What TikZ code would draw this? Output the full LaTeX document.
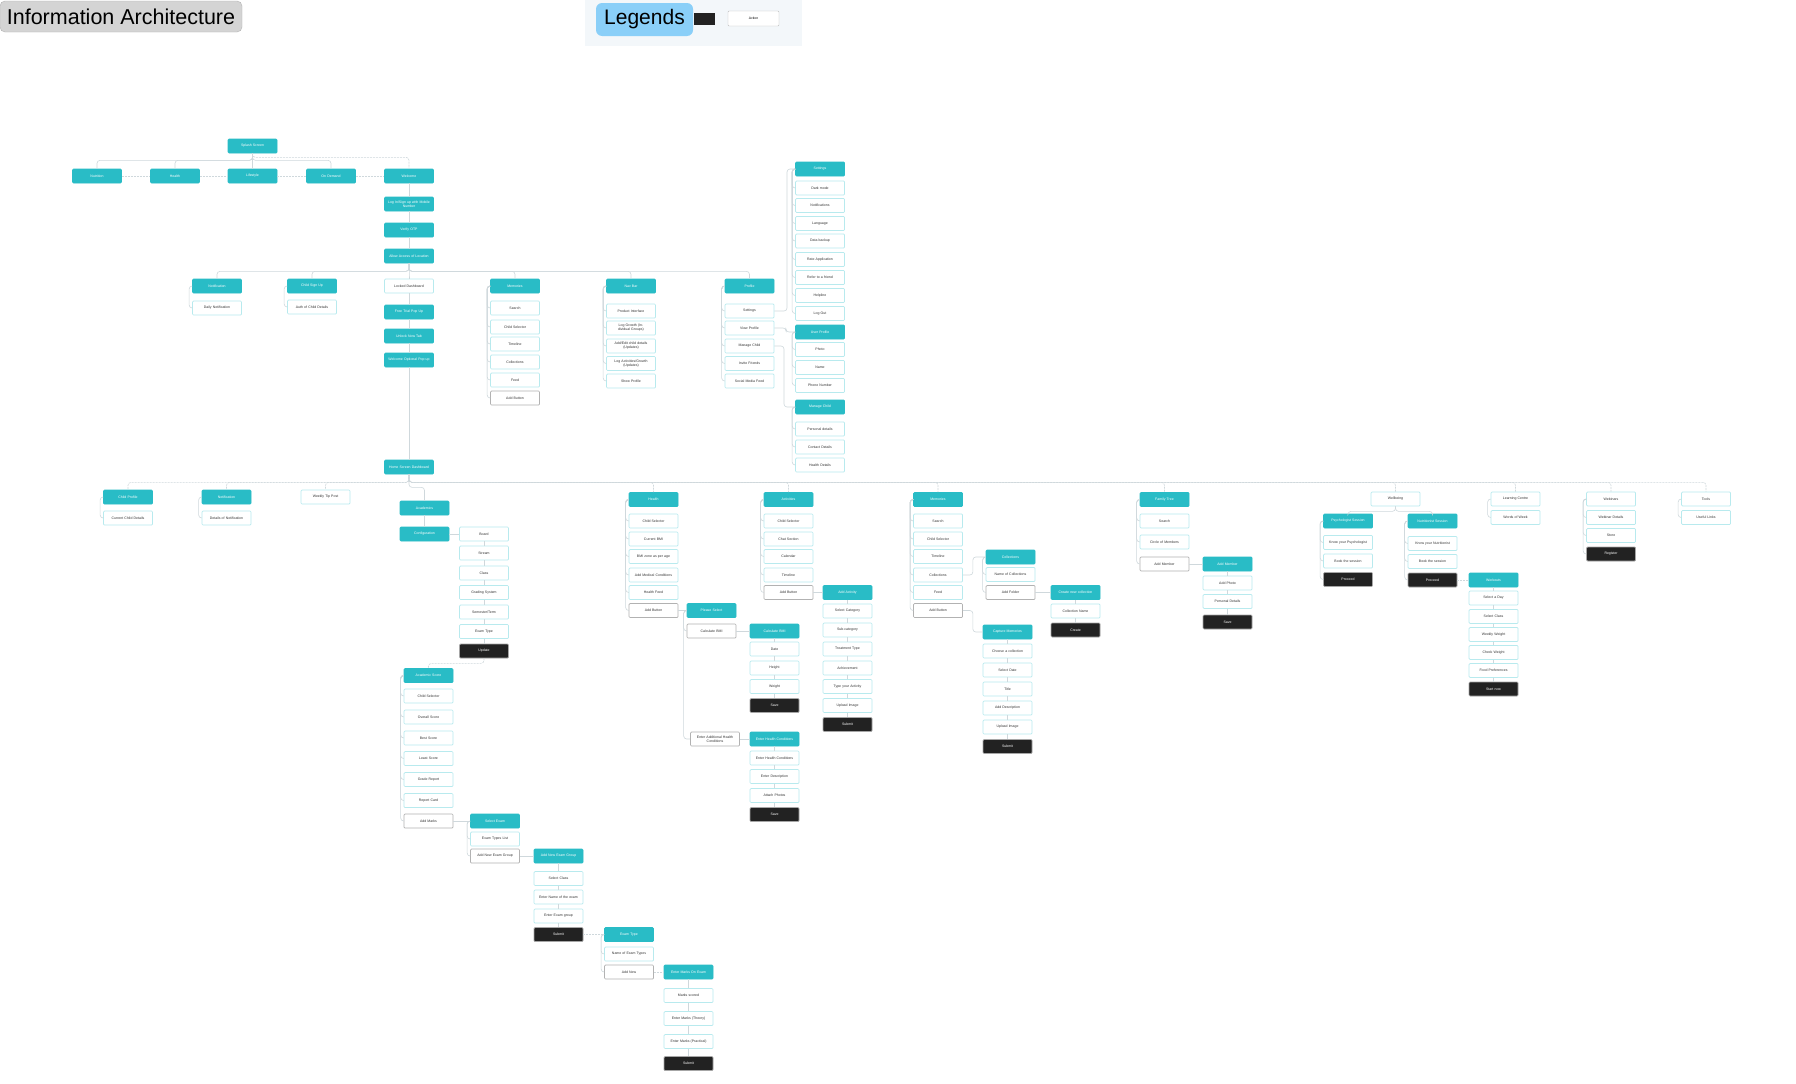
\documentclass[tikz,border=0pt]{standalone}
\usepackage{fontspec}
\setmainfont{Liberation Sans}
\definecolor{teal1}{HTML}{29BCC6}
\definecolor{lteal}{HTML}{B8EAEE}
\definecolor{blk}{HTML}{222222}
\definecolor{lineg}{HTML}{CFD8DC}
\definecolor{titlebg}{HTML}{D4D4D4}
\definecolor{legbg}{HTML}{F3F7FA}
\definecolor{legblue}{HTML}{8ACFF8}
\tikzset{
 bx/.style={rectangle, rounded corners=1pt, minimum width=49pt, minimum height=14pt, inner sep=0pt, align=center, text width=46pt, font=\fontsize{3.5}{4.1}\selectfont, line width=0.7pt},
 tl/.style={bx, fill=teal1, draw=teal1, text=white},
 wt/.style={bx, fill=white, draw=lteal, text=black!80},
 gr/.style={bx, fill=white, draw=gray!60, text=black!80},
 bk/.style={bx, fill=blk, draw=gray!70, text=white},
 conn/.style={draw=lineg, line width=0.6pt, rounded corners=3pt},
 dconn/.style={conn, dash pattern=on 2pt off 1pt},
}
\newcommand\iaBrk[2]{\draw[conn] (#1.west) -- ++(-3,0) |- (#2.west);}
\newcommand\iaDn[2]{\draw[conn] (#1.south) -- (#2.north);}
\newcommand\iaRt[2]{\draw[conn] (#1.east) -- (#2.west);}
\begin{document}
\begin{tikzpicture}[x=1pt,y=-1pt]
\useasboundingbox (0,0) rectangle (1796,1084);
\fill[white] (0,0) rectangle (1796,1084);
% title
\node[draw=gray!60, fill=titlebg, rounded corners=5pt, minimum width=242pt, minimum height=31pt, inner sep=0pt, font=\fontsize{21.5}{24}\selectfont] (title) at (121,16.5) {Information Architecture};
% legend
\fill[legbg] (585,0) rectangle (802,46);
\node[fill=legblue, rounded corners=6pt, minimum width=97pt, minimum height=33pt, inner sep=0pt, font=\fontsize{21}{24}\selectfont] (leg) at (644.5,19.5) {Legends};
\node[fill=blk, minimum width=21pt, minimum height=12pt, inner sep=0pt] (legblk) at (704.5,19) {};
\node[draw=gray!50, fill=white, rounded corners=1pt, minimum width=51pt, minimum height=15pt, inner sep=0pt, font=\fontsize{3.4}{4}\selectfont] (legwt) at (753.5,18.5) {Action};

% ===== top =====
\node[tl] (splash) at (252.5,146) {Splash Screen};
\node[tl] (ob1) at (97,176) {Nutrition};
\node[tl] (ob2) at (175,176) {Health};
\node[tl] (ob3) at (252.5,176) {Lifestyle};
\node[tl] (ob4) at (331,176) {On Demand};
\node[tl] (welc) at (409,176) {Welcome};
\node[tl] (login) at (409,204) {Log In/Sign up with Mobile\\Number};
\node[tl] (otp) at (409,230) {Verify OTP};
\node[tl] (loc) at (409,256) {Allow Access of Location};
\foreach \t in {ob1,ob2,ob3,ob4} {\draw[conn] (splash.south) -- ++(0,7) -| (\t.north);}
\draw[dconn] (splash.south) -- ++(0,4) -| (welc.north);
\draw[dconn] (ob1.east) -- (ob2.west);
\draw[dconn] (ob2.east) -- (ob3.west);
\draw[dconn] (ob3.east) -- (ob4.west);
\draw[dconn] (ob4.east) -- (welc.west);
\iaDn{welc}{login}\iaDn{login}{otp}\iaDn{otp}{loc}

% ===== middle row =====
\node[tl] (notif) at (217,286) {Notification};
\node[wt] (dnot) at (217,308) {Daily Notification};
\node[tl] (csign) at (312,286) {Child Sign Up};
\node[wt] (cauth) at (312,307) {Auth of Child Details};
\node[wt] (lock) at (409,286) {Locked Dashboard};
\node[tl] (ftp) at (409,312) {Free Trial Pop Up};
\node[tl] (unl) at (409,336) {Unlock Now Tab};
\node[tl] (opt) at (409,360) {Welcome Optional Pop up};
\node[tl] (mem1) at (515,286) {Memories};
\node[wt] (m1a) at (515,308) {Search};
\node[wt] (m1b) at (515,327) {Child Selector};
\node[wt] (m1c) at (515,344) {Timeline};
\node[wt] (m1d) at (515,362) {Collections};
\node[wt] (m1e) at (515,380) {Feed};
\node[gr] (m1f) at (515,398) {Add Button};
\node[tl] (nav) at (631,286) {Nav Bar};
\node[wt] (n1) at (631,311) {Product Interface};
\node[wt] (n2) at (631,328) {Log Growth (Individual Groups)};
\node[wt] (n3) at (631,346) {Add/Edit child details\\(Updates)};
\node[wt] (n4) at (631,363.5) {Log Activities/Growth\\(Updates)};
\node[wt] (n5) at (631,381) {Show Profile};
\node[tl] (prof) at (749.5,286) {Profile};
\node[wt] (p1) at (749.5,311) {Settings};
\node[wt] (p2) at (749.5,328) {View Profile};
\node[wt] (p3) at (749.5,346) {Manage Child};
\node[wt] (p4) at (749.5,363.5) {Invite Friends};
\node[wt] (p5) at (749.5,381) {Social Media Feed};
\foreach \t in {notif,csign,lock,mem1,nav,prof} {\draw[conn] (loc.south) -- ++(0,8) -| (\t.north);}
\iaBrk{notif}{dnot}
\iaBrk{csign}{cauth}
\iaDn{lock}{ftp}\iaDn{ftp}{unl}\iaDn{unl}{opt}
\foreach \c in {m1a,m1b,m1c,m1d,m1e,m1f} {\iaBrk{mem1}{\c}}
\foreach \c in {n1,n2,n3,n4,n5} {\iaBrk{nav}{\c}}
\foreach \c in {p1,p2,p3,p4,p5} {\iaBrk{prof}{\c}}

% ===== settings column =====
\node[tl] (set) at (820,169) {Settings};
\node[wt] (s1) at (820,188) {Dark mode};
\node[wt] (s2) at (820,205.5) {Notifications};
\node[wt] (s3) at (820,223.5) {Language};
\node[wt] (s4) at (820,241) {Data backup};
\node[wt] (s5) at (820,259.5) {Rate Application};
\node[wt] (s6) at (820,277.5) {Refer to a friend};
\node[wt] (s7) at (820,295.5) {Helpline};
\node[wt] (s8) at (820,313.5) {Log Out};
\node[tl] (uprof) at (820,332) {User Profile};
\node[wt] (u1) at (820,349.5) {Photo};
\node[wt] (u2) at (820,367.5) {Name};
\node[wt] (u3) at (820,385.5) {Phone Number};
\node[tl] (mch) at (820,407) {Manage Child};
\node[wt] (c1) at (820,429) {Personal details};
\node[wt] (c2) at (820,447) {Contact Details};
\node[wt] (c3) at (820,465) {Health Details};
\foreach \c in {s1,s2,s3,s4,s5,s6,s7,s8} {\iaBrk{set}{\c}}
\foreach \c in {u1,u2,u3} {\iaBrk{uprof}{\c}}
\foreach \c in {c1,c2,c3} {\iaBrk{mch}{\c}}
\draw[conn] (p1.east) -- (787,311) |- (set.west);
\draw[conn] (p2.east) -- (786,328) |- (uprof.west);
\draw[conn] (p3.east) -- (784,346) |- (mch.west);

% ===== home =====
\node[tl] (home) at (409,467) {Home Screen Dashboard};
\draw[conn] (opt.south) -- (home.north);

% level children
\node[tl] (cprof) at (128,497) {Child Profile};
\node[wt] (cpd) at (128,518) {Current Child Details};
\node[tl] (not2) at (226.5,497) {Notification};
\node[wt] (not2d) at (226.5,518) {Details of Notification};
\node[wt] (week) at (325.5,497) {Weekly Tip Post};
\node[tl] (acad) at (424.5,508) {Academics};
\node[tl] (health) at (653.5,499.5) {Health};
\node[tl] (act) at (788.5,499.5) {Activities};
\node[tl] (mem2) at (938,499.5) {Memories};
\node[tl] (fam) at (1164.5,499.5) {Family Tree};
\node[wt] (wellb) at (1395.5,499) {Wellbeing};
\node[wt] (learn) at (1515.5,499) {Learning Centre};
\node[wt] (webi) at (1611,499) {Webinars};
\node[wt] (tools) at (1706,499) {Tools};
\foreach \t in {cprof,not2,week,health,act,mem2,fam,wellb,learn,webi,tools} {\draw[dconn] (home.south) -- ++(0,8) -| (\t.north);}
\draw[conn] (home.south) -- ++(0,13) -| (acad.north);
\iaBrk{cprof}{cpd}
\iaBrk{not2}{not2d}

% academics
\node[tl] (conf) at (424.5,534) {Configuration};
\node[wt] (b1) at (484,534) {Board};
\node[wt] (b2) at (484,553) {Stream};
\node[wt] (b3) at (484,573) {Class};
\node[wt] (b4) at (484,592.5) {Grading System};
\node[wt] (b5) at (484,612) {Semester/Term};
\node[wt] (b6) at (484,631.5) {Exam Type};
\node[bk] (b7) at (484,651) {Update};
\iaDn{acad}{conf}
\iaRt{conf}{b1}
\iaDn{b1}{b2}\iaDn{b2}{b3}\iaDn{b3}{b4}\iaDn{b4}{b5}\iaDn{b5}{b6}\iaDn{b6}{b7}
\node[tl] (asc) at (428.5,675.5) {Academic Score};
\draw[dconn] (b7.south) -- ++(0,5) -| (asc.north);
\node[wt] (a1) at (428.5,696) {Child Selector};
\node[wt] (a2) at (428.5,717) {Overall Score};
\node[wt] (a3) at (428.5,738) {Best Score};
\node[wt] (a4) at (428.5,758.5) {Least Score};
\node[wt] (a5) at (428.5,779.5) {Grade Report};
\node[wt] (a6) at (428.5,800.5) {Report Card};
\node[gr] (a7) at (428.5,821) {Add Marks};
\foreach \c in {a1,a2,a3,a4,a5,a6,a7} {\iaBrk{asc}{\c}}
\node[tl] (sel) at (495,821) {Select Exam};
\node[wt] (se1) at (495,839) {Exam Types List};
\node[gr] (se2) at (495,856) {Add New Exam Group};
\iaRt{a7}{sel}
\iaBrk{sel}{se1}\iaBrk{sel}{se2}
\node[tl] (grp) at (558.5,856) {Add New Exam Group};
\node[wt] (g1) at (558.5,878.5) {Select Class};
\node[wt] (g2) at (558.5,897) {Enter Name of the exam};
\node[wt] (g3) at (558.5,916) {Enter Exam group};
\node[bk] (g4) at (558.5,934.5) {Submit};
\iaRt{se2}{grp}
\iaDn{grp}{g1}\iaDn{g1}{g2}\iaDn{g2}{g3}\iaDn{g3}{g4}
\node[tl] (et) at (629,934.5) {Exam Type};
\node[wt] (et1) at (629,954) {Name of Exam Types};
\node[gr] (et2) at (629,972) {Add New};
\draw[dconn] (g4.east) -- (et.west);
\iaBrk{et}{et1}\iaBrk{et}{et2}
\node[tl] (em) at (688.5,972) {Enter Marks On Exam};
\node[wt] (em1) at (688.5,995.5) {Marks scored};
\node[wt] (em2) at (688.5,1018.5) {Enter Marks (Theory)};
\node[wt] (em3) at (688.5,1041.5) {Enter Marks (Practical)};
\node[bk] (em4) at (688.5,1063.5) {Submit};
\draw[dconn] (et2.east) -- (em.west);
\iaDn{em}{em1}\iaDn{em1}{em2}\iaDn{em2}{em3}\iaDn{em3}{em4}

% health
\node[wt] (h1) at (653.5,521) {Child Selector};
\node[wt] (h2) at (653.5,539) {Current BMI};
\node[wt] (h3) at (653.5,556.5) {BMI zone as per age};
\node[wt] (h4) at (653.5,575) {Add Medical Conditions};
\node[wt] (h5) at (653.5,592.5) {Health Feed};
\node[gr] (h6) at (653.5,610.5) {Add Button};
\foreach \c in {h1,h2,h3,h4,h5,h6} {\iaBrk{health}{\c}}
\node[tl] (pls) at (711.5,610.5) {Please Select};
\node[gr] (pcb) at (711.5,631) {Calculate BMI};
\node[gr] (pah) at (715,739) {Enter Additional Health\\Conditions};
\iaRt{h6}{pls}
\iaBrk{pls}{pcb}\iaBrk{pls}{pah}
\node[tl] (bmi) at (774.5,631) {Calculate BMI};
\node[wt] (bm1) at (774.5,649) {Date};
\node[wt] (bm2) at (774.5,668) {Height};
\node[wt] (bm3) at (774.5,686.5) {Weight};
\node[bk] (bm4) at (774.5,705.5) {Save};
\iaRt{pcb}{bmi}
\iaDn{bmi}{bm1}\iaDn{bm1}{bm2}\iaDn{bm2}{bm3}\iaDn{bm3}{bm4}
\node[tl] (ehc) at (774.5,739) {Enter Health Conditions};
\node[wt] (eh1) at (774.5,758) {Enter Health Conditions};
\node[wt] (eh2) at (774.5,776.5) {Enter Description};
\node[wt] (eh3) at (774.5,795.5) {Attach Photos};
\node[bk] (eh4) at (774.5,814.5) {Save};
\iaRt{pah}{ehc}
\iaDn{ehc}{eh1}\iaDn{eh1}{eh2}\iaDn{eh2}{eh3}\iaDn{eh3}{eh4}

% activities
\node[wt] (ac1) at (788.5,521) {Child Selector};
\node[wt] (ac2) at (788.5,539) {Chat Section};
\node[wt] (ac3) at (788.5,556.5) {Calendar};
\node[wt] (ac4) at (788.5,575) {Timeline};
\node[gr] (ac5) at (788.5,592.5) {Add Button};
\foreach \c in {ac1,ac2,ac3,ac4,ac5} {\iaBrk{act}{\c}}
\node[tl] (aa) at (847.5,592.5) {Add Activity};
\node[wt] (aa1) at (847.5,611) {Select Category};
\node[wt] (aa2) at (847.5,630) {Sub-category};
\node[wt] (aa3) at (847.5,649) {Treatment Type};
\node[wt] (aa4) at (847.5,668) {Achievement};
\node[wt] (aa5) at (847.5,686.5) {Type your Activity};
\node[wt] (aa6) at (847.5,705.5) {Upload Image};
\node[bk] (aa7) at (847.5,724.5) {Submit};
\iaRt{ac5}{aa}
\iaDn{aa}{aa1}\iaDn{aa1}{aa2}\iaDn{aa2}{aa3}\iaDn{aa3}{aa4}\iaDn{aa4}{aa5}\iaDn{aa5}{aa6}\iaDn{aa6}{aa7}

% memories
\node[wt] (mm1) at (938,521) {Search};
\node[wt] (mm2) at (938,539) {Child Selector};
\node[wt] (mm3) at (938,556.5) {Timeline};
\node[wt] (mm4) at (938,575) {Collections};
\node[wt] (mm5) at (938,592.5) {Feed};
\node[gr] (mm6) at (938,610.5) {Add Button};
\foreach \c in {mm1,mm2,mm3,mm4,mm5,mm6} {\iaBrk{mem2}{\c}}
\node[tl] (col) at (1010.5,557) {Collections};
\node[wt] (co1) at (1010.5,574.5) {Name of Collections};
\node[gr] (co2) at (1010.5,592.5) {Add Folder};
\draw[conn] (mm4.east) -- ++(10,0) |- (col.west);
\iaBrk{col}{co1}\iaBrk{col}{co2}
\node[tl] (ncol) at (1075.5,592.5) {Create new collection};
\node[wt] (nc1) at (1075.5,611) {Collection Name};
\node[bk] (nc2) at (1075.5,630) {Create};
\iaRt{co2}{ncol}
\iaDn{ncol}{nc1}\iaDn{nc1}{nc2}
\node[tl] (cap) at (1007.5,632) {Capture Memories};
\node[wt] (cp1) at (1007.5,651) {Choose a collection};
\node[wt] (cp2) at (1007.5,670) {Select Date};
\node[wt] (cp3) at (1007.5,689) {Title};
\node[wt] (cp4) at (1007.5,708) {Add Description};
\node[wt] (cp5) at (1007.5,727) {Upload Image};
\node[bk] (cp6) at (1007.5,746.5) {Submit};
\draw[conn] (mm6.east) -- ++(10,0) |- (cap.west);
\iaDn{cap}{cp1}\iaDn{cp1}{cp2}\iaDn{cp2}{cp3}\iaDn{cp3}{cp4}\iaDn{cp4}{cp5}\iaDn{cp5}{cp6}

% family tree
\node[wt] (f1) at (1164.5,521) {Search};
\node[wt] (f2) at (1164.5,542) {Circle of Members};
\node[gr] (f3) at (1164.5,564) {Add Member};
\foreach \c in {f1,f2,f3} {\iaBrk{fam}{\c}}
\node[tl] (am) at (1227.5,564) {Add Member};
\node[wt] (am1) at (1227.5,583) {Add Photo};
\node[wt] (am2) at (1227.5,601.5) {Personal Details};
\node[bk] (am3) at (1227.5,622) {Save};
\iaRt{f3}{am}
\iaDn{am}{am1}\iaDn{am1}{am2}\iaDn{am2}{am3}

% wellbeing
\node[tl] (psy) at (1348,521) {Psychologist Session};
\node[wt] (ps1) at (1348,542.5) {Know your Psychologist};
\node[wt] (ps2) at (1348,561) {Book the session};
\node[bk] (ps3) at (1348,579.5) {Proceed};
\node[tl] (nut) at (1432.5,521) {Nutritionist Session};
\node[wt] (nu1) at (1432.5,543.5) {Know your Nutritionist};
\node[wt] (nu2) at (1432.5,561.5) {Book the session};
\node[bk] (nu3) at (1432.5,580) {Proceed};
\draw[conn] (wellb.south) -- ++(0,5) -| (psy.north);
\draw[conn] (wellb.south) -- ++(0,5) -| (nut.north);
\foreach \c in {ps1,ps2,ps3} {\iaBrk{psy}{\c}}
\foreach \c in {nu1,nu2,nu3} {\iaBrk{nut}{\c}}
\node[tl] (wo) at (1493.5,580) {Workouts};
\node[wt] (wo1) at (1493.5,598) {Select a Day};
\node[wt] (wo2) at (1493.5,616.5) {Select Class};
\node[wt] (wo3) at (1493.5,634.5) {Weekly Weight};
\node[wt] (wo4) at (1493.5,652.5) {Check Weight};
\node[wt] (wo5) at (1493.5,670.5) {Food Preferences};
\node[bk] (wo6) at (1493.5,689) {Start now};
\draw[dconn] (nu3.east) -- (wo.west);
\iaDn{wo}{wo1}\iaDn{wo1}{wo2}\iaDn{wo2}{wo3}\iaDn{wo3}{wo4}\iaDn{wo4}{wo5}\iaDn{wo5}{wo6}

% learning, webinars, tools
\node[wt] (l1) at (1515.5,517.5) {Words of Week};
\iaBrk{learn}{l1}
\node[wt] (w1) at (1611,517.5) {Webinar Details};
\node[wt] (w2) at (1611,535.5) {Store};
\node[bk] (w3) at (1611,554) {Register};
\foreach \c in {w1,w2,w3} {\iaBrk{webi}{\c}}
\node[wt] (t1) at (1706,517.5) {Useful Links};
\iaBrk{tools}{t1}
\end{tikzpicture}
\end{document}
